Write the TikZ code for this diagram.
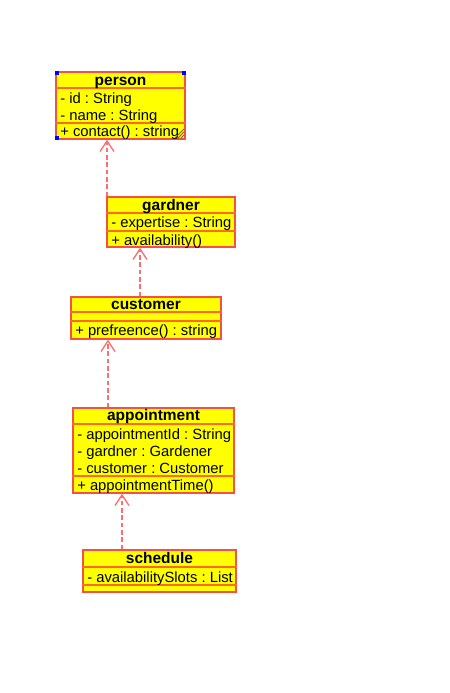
\documentclass[tikz,border=0pt]{standalone}
\usepackage{fontspec}
\setmainfont{Liberation Sans}
\usetikzlibrary{fit,arrows.meta}

\definecolor{umlfill}{RGB}{255,255,0}
\definecolor{umlline}{RGB}{245,80,70}
\definecolor{umlsep}{RGB}{255,105,40}
\definecolor{umldep}{RGB}{255,110,110}
\definecolor{umlgrip}{RGB}{120,110,40}

\tikzset{
	classbox/.style={draw=umlline, fill=umlfill, line width=1pt, inner sep=0pt},
	classname/.style={font=\fontsize{11.6}{12}\selectfont\bfseries, anchor=base, inner sep=0pt},
	member/.style={anchor=base west, inner sep=0pt},
	sepline/.style={draw=umlsep, line width=1pt},
	realize/.style={draw=umldep, line width=1pt, dash pattern=on 3.5pt off 2pt,
		-{Straight Barb[length=8pt,width=10.5pt]}},
}

\begin{document}
\frenchspacing
\begin{tikzpicture}[x=0.75pt, y=-0.75pt, font=\fontsize{11.1}{12}\selectfont]
	\useasboundingbox (0,0) rectangle (450,693);

	%person
	\node[classbox, fit={(56,72)(185,139)}] (person) {};
	\draw[sepline] (person.west |- 0,88) -- (person.east |- 0,88);
	\draw[sepline] (person.west |- 0,123) -- (person.east |- 0,123);
	\node[classname] (personT) at (120.5,85) {person};
	\node[member] (personA1) at (60,103)  {- id : String};
	\node[member] (personA2) at (60,120) {- name : String};
	\node[member] (personM1) at (60,136) {+ contact() : string};
	% selection handles
	\fill[blue] (55,71) rectangle (59,75);
	\fill[blue] (182,71) rectangle (186,75);
	\fill[blue] (55,136) rectangle (59,140);
	\draw[umlgrip, line width=0.6pt] (178,138)--(184,132) (181,138)--(184,135) (175,138)--(184,129);

	%gardner
	\node[classbox, fit={(107,197)(235,247)}] (gardner) {};
	\draw[sepline] (gardner.west |- 0,213) -- (gardner.east |- 0,213);
	\draw[sepline] (gardner.west |- 0,231) -- (gardner.east |- 0,231);
	\node[classname] (gardnerT) at (171,210) {gardner};
	\node[member] (gardnerA1) at (111,227) {- expertise : String};
	\node[member] (gardnerM1) at (111,245) {+ availability()};

	%customer
	\node[classbox, fit={(71,297)(221,339)}] (customer) {};
	\draw[sepline] (customer.west |- 0,312) -- (customer.east |- 0,312);
	\draw[sepline] (customer.west |- 0,321) -- (customer.east |- 0,321);
	\node[classname] (customerT) at (146,309) {customer};
	\node[member] (customerM1) at (75,335) {+ prefreence() : string};

	%appointment
	\node[classbox, fit={(73,408)(234,493)}] (appointment) {};
	\draw[sepline] (appointment.west |- 0,424) -- (appointment.east |- 0,424);
	\draw[sepline] (appointment.west |- 0,476) -- (appointment.east |- 0,476);
	\node[classname] (appointmentT) at (153.5,420) {appointment};
	\node[member] (appointmentA1) at (77,439) {- appointmentId : String};
	\node[member] (appointmentA2) at (77,456) {- gardner : Gardener};
	\node[member] (appointmentA3) at (77,473) {- customer : Customer};
	\node[member] (appointmentM1) at (77,490) {+ appointmentTime()};

	%schedule
	\node[classbox, fit={(83,550)(236,592)}] (schedule) {};
	\draw[sepline] (schedule.west |- 0,567) -- (schedule.east |- 0,567);
	\draw[sepline] (schedule.west |- 0,585) -- (schedule.east |- 0,585);
	\node[classname] (scheduleT) at (159.5,563) {schedule};
	\node[member] (scheduleA1) at (87,582) {- availabilitySlots : List};

	%dependencies
	\draw[realize] (gardner.north -| 107,0) -- (person.south -| 107,0);
	\draw[realize] (customer.north -| 140,0) -- (gardner.south -| 140,0);
	\draw[realize] (appointment.north -| 108,0) -- (customer.south -| 108,0);
	\draw[realize] (schedule.north -| 122,0) -- (appointment.south -| 122,0);
\end{tikzpicture}
\end{document}
